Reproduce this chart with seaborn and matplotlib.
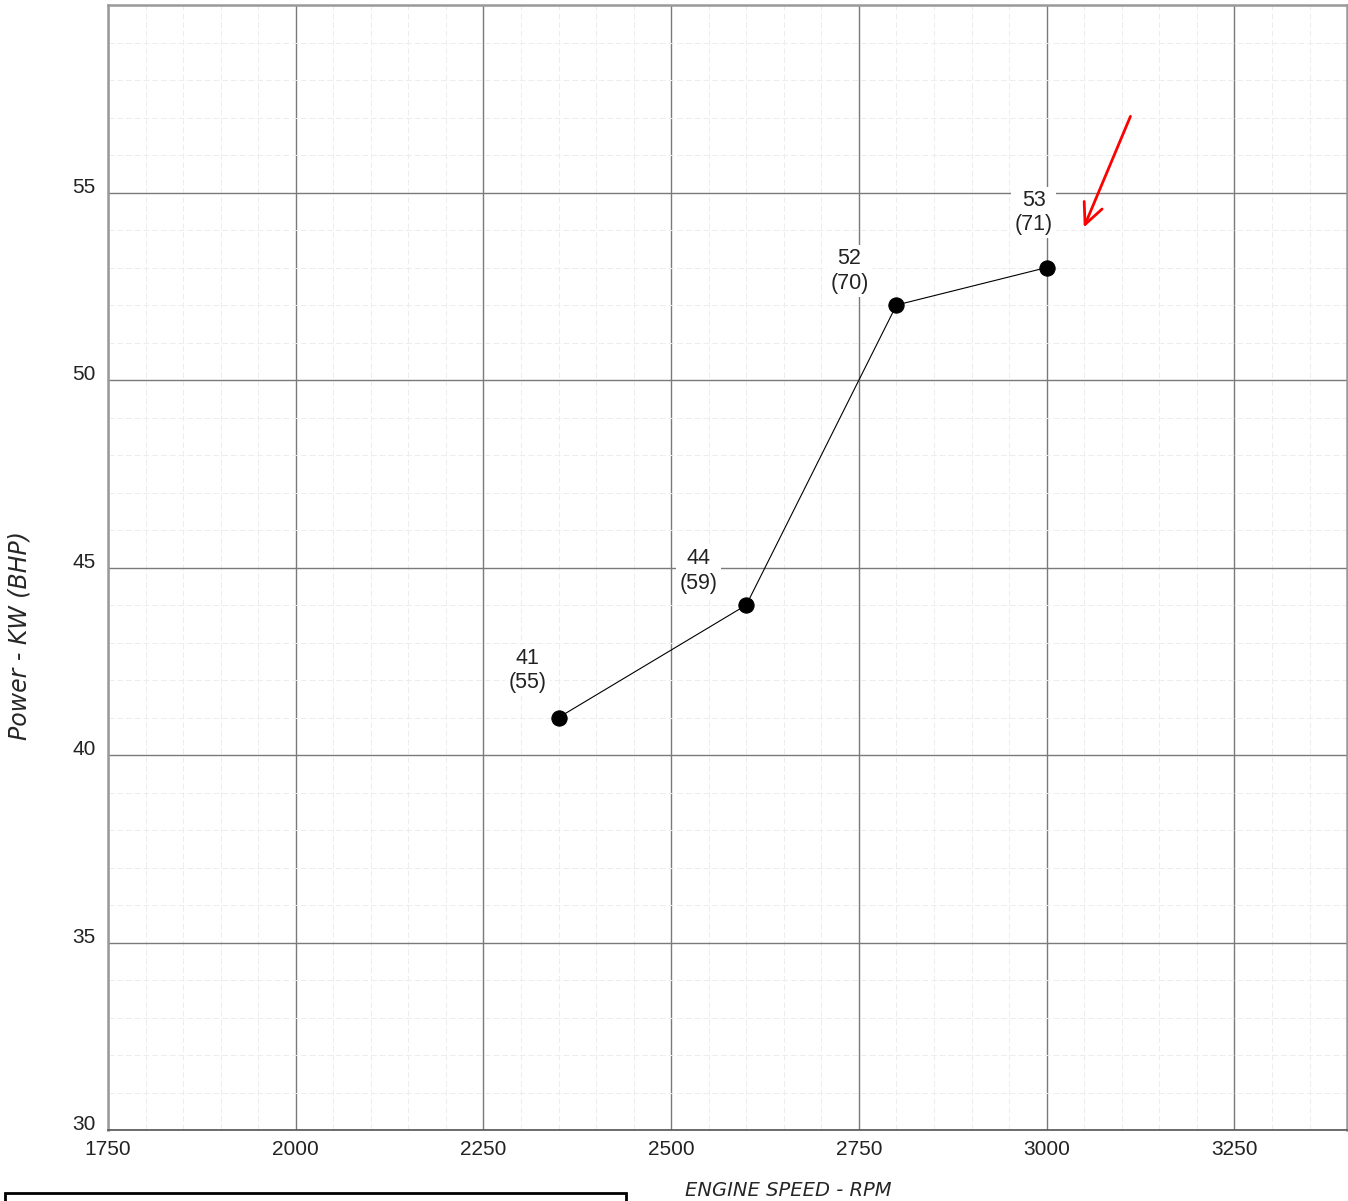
import matplotlib
matplotlib.use("Agg")
import matplotlib.pyplot as plt
import seaborn as sns
import pandas as pd
from matplotlib.patches import Rectangle
from matplotlib.ticker import MultipleLocator

# data
rpm = [2350, 2600, 2800, 3000]
kw = [41, 44, 52, 53]
bhp = [55, 59, 70, 71]

x_ticks = [1750, 2000, 2250, 2500, 2750, 3000, 3250]
y_ticks = [30, 35, 40, 45, 50, 55]

# label offsets (pixels) for each point
label_offsets = [(-31, 47), (-48, 34), (-47, 34), (-13, 55)]

df = pd.DataFrame({"rpm": rpm, "kw": kw})

sns.set_style("white")
plt.rcParams['font.family'] = ['Liberation Sans', 'DejaVu Sans']

fig = plt.figure(figsize=(13.48, 12.01), dpi=100)
ax = fig.add_axes([0.0801, 0.0591, 0.9192, 0.9367])

ax.set_xlim(1750, 3400)
ax.set_ylim(30, 60)
ax.set_xticks(x_ticks)
ax.set_yticks(y_ticks)
ax.xaxis.set_minor_locator(MultipleLocator(50))
ax.yaxis.set_minor_locator(MultipleLocator(1))

ax.grid(which='major', color='#7a7a7a', linewidth=1.0, zorder=0)
ax.grid(which='minor', color='#ededed', linewidth=0.7, linestyle=(0, (6, 3)), zorder=0)
ax.set_axisbelow(True)

sns.lineplot(data=df, x="rpm", y="kw", ax=ax, color='black', linewidth=0.8,
             marker='o', markersize=11, markeredgecolor='black', zorder=3)

for x, y, b, off in zip(rpm, kw, bhp, label_offsets):
    ax.annotate(f"{y}\n({b})", xy=(x, y), xytext=off, textcoords='offset pixels',
                ha='center', va='center', fontsize=15.5, color='#222222', linespacing=1.2,
                bbox=dict(boxstyle='square,pad=0.15', facecolor='white', edgecolor='none'),
                zorder=4)

# red arrow
ax.annotate("", xy=(3048, 54.0), xytext=(3113, 57.1),
            arrowprops=dict(arrowstyle='->,head_length=1.5,head_width=0.7', color='red', lw=2))

ax.tick_params(axis='both', which='both', length=0, labelsize=15, labelcolor='#222222')
ax.tick_params(axis='y', pad=9)
ax.tick_params(axis='x', pad=7)
for lab in ax.get_yticklabels():
    lab.set_va('baseline')

for side in ['top', 'left', 'right']:
    ax.spines[side].set_color('#999999')
    ax.spines[side].set_linewidth(1.8)
ax.spines['bottom'].set_color('#555555')
ax.spines['bottom'].set_linewidth(1.2)

ax.set_xlabel("ENGINE SPEED - RPM", fontsize=14, style='italic', family='DejaVu Sans')
ax.set_ylabel("Power - KW (BHP)", fontsize=17, style='italic', family='DejaVu Sans')
ax.xaxis.set_label_coords(0.549, -0.045)
ax.yaxis.set_label_coords(-0.062, 0.44)

fig.patches.append(Rectangle((0.0037, -0.02), 0.461, 0.0267, transform=fig.transFigure,
                             fill=False, edgecolor='black', linewidth=2, clip_on=False))

fig.savefig("out.png", dpi=100)
